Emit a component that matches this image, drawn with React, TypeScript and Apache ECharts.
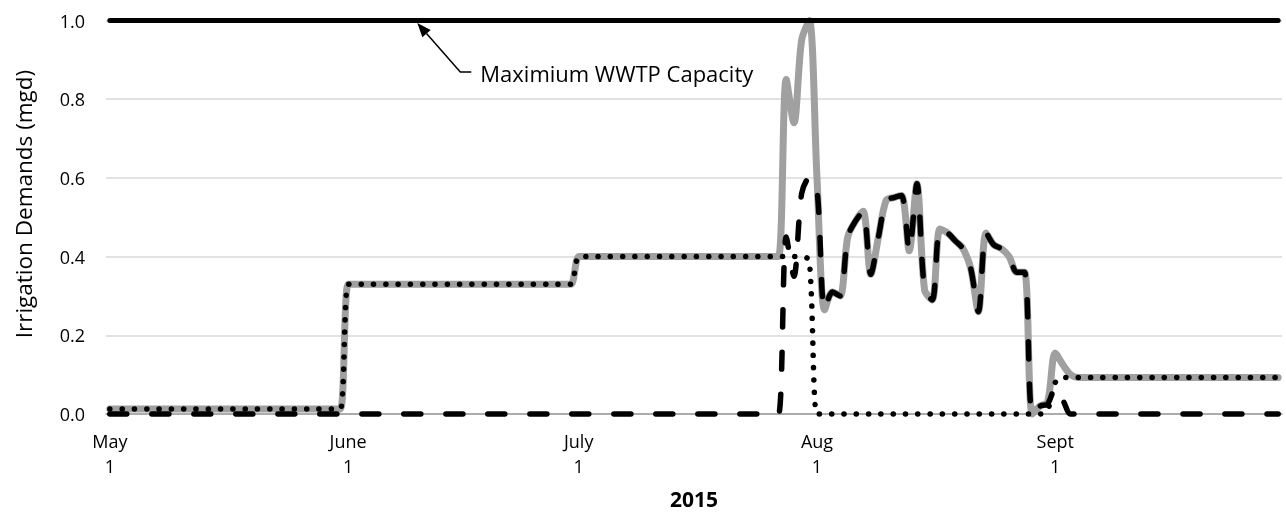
import { useEffect, useRef } from "react";
import * as echarts from "echarts";

// Day index 0 = May 1, 2015 ... 152 = Sept 30, 2015
const TICK_DAYS = [0, 31, 61, 92, 123];
const TICK_LABELS = ["May\n1", "June\n1", "July\n1", "Aug\n1", "Sept\n1"];
const X_TITLE = "2015";
const Y_TITLE = "Irrigation Demands (mgd)";
const CAPACITY_LABEL = "Maximium WWTP Capacity";
const CAPACITY = 1.0;
const CAPACITY_DAYS = [0, 152];
const ANNOTATION_DAY = 40;

// Total demand (solid grey)
const TOTAL = [
  // May
  0.013, 0.013, 0.013, 0.013, 0.013, 0.013, 0.013, 0.013, 0.013, 0.013,
  0.013, 0.013, 0.013, 0.013, 0.013, 0.013, 0.013, 0.013, 0.013, 0.013,
  0.013, 0.013, 0.013, 0.013, 0.013, 0.013, 0.013, 0.013, 0.013, 0.013, 0.013,
  // June
  0.33, 0.33, 0.33, 0.33, 0.33, 0.33, 0.33, 0.33, 0.33, 0.33,
  0.33, 0.33, 0.33, 0.33, 0.33, 0.33, 0.33, 0.33, 0.33, 0.33,
  0.33, 0.33, 0.33, 0.33, 0.33, 0.33, 0.33, 0.33, 0.33, 0.33,
  // July
  0.4, 0.4, 0.4, 0.4, 0.4, 0.4, 0.4, 0.4, 0.4, 0.4,
  0.4, 0.4, 0.4, 0.4, 0.4, 0.4, 0.4, 0.4, 0.4, 0.4,
  0.4, 0.4, 0.4, 0.4, 0.4, 0.4, 0.4, 0.85, 0.74, 0.95, 1.0,
  // August
  0.6, 0.265, 0.31, 0.3, 0.45, 0.49, 0.515, 0.355, 0.45, 0.543,
  0.55, 0.555, 0.415, 0.585, 0.315, 0.29, 0.47, 0.46, 0.44, 0.42,
  0.37, 0.26, 0.46, 0.43, 0.42, 0.4, 0.36, 0.36, 0.0, 0.02, 0.03,
  // September
  0.155, 0.125, 0.1, 0.093, 0.093, 0.093, 0.093, 0.093, 0.093, 0.093,
  0.093, 0.093, 0.093, 0.093, 0.093, 0.093, 0.093, 0.093, 0.093, 0.093,
  0.093, 0.093, 0.093, 0.093, 0.093, 0.093, 0.093, 0.093, 0.093, 0.093,
];

// Dotted demand component
const DOTTED = [
  // May
  0.013, 0.013, 0.013, 0.013, 0.013, 0.013, 0.013, 0.013, 0.013, 0.013,
  0.013, 0.013, 0.013, 0.013, 0.013, 0.013, 0.013, 0.013, 0.013, 0.013,
  0.013, 0.013, 0.013, 0.013, 0.013, 0.013, 0.013, 0.013, 0.013, 0.013, 0.013,
  // June
  0.33, 0.33, 0.33, 0.33, 0.33, 0.33, 0.33, 0.33, 0.33, 0.33,
  0.33, 0.33, 0.33, 0.33, 0.33, 0.33, 0.33, 0.33, 0.33, 0.33,
  0.33, 0.33, 0.33, 0.33, 0.33, 0.33, 0.33, 0.33, 0.33, 0.33,
  // July
  0.4, 0.4, 0.4, 0.4, 0.4, 0.4, 0.4, 0.4, 0.4, 0.4,
  0.4, 0.4, 0.4, 0.4, 0.4, 0.4, 0.4, 0.4, 0.4, 0.4,
  0.4, 0.4, 0.4, 0.4, 0.4, 0.4, 0.4, 0.4, 0.4, 0.4, 0.39,
  // August
  0, 0, 0, 0, 0, 0, 0, 0, 0, 0,
  0, 0, 0, 0, 0, 0, 0, 0, 0, 0,
  0, 0, 0, 0, 0, 0, 0, 0, 0, 0, 0.01,
  // September
  0.08, 0.093, 0.093, 0.093, 0.093, 0.093, 0.093, 0.093, 0.093, 0.093,
  0.093, 0.093, 0.093, 0.093, 0.093, 0.093, 0.093, 0.093, 0.093, 0.093,
  0.093, 0.093, 0.093, 0.093, 0.093, 0.093, 0.093, 0.093, 0.093, 0.093,
];

// Dashed demand component
const DASHED = [
  // May
  0, 0, 0, 0, 0, 0, 0, 0, 0, 0,
  0, 0, 0, 0, 0, 0, 0, 0, 0, 0,
  0, 0, 0, 0, 0, 0, 0, 0, 0, 0, 0,
  // June
  0, 0, 0, 0, 0, 0, 0, 0, 0, 0,
  0, 0, 0, 0, 0, 0, 0, 0, 0, 0,
  0, 0, 0, 0, 0, 0, 0, 0, 0, 0,
  // July
  0, 0, 0, 0, 0, 0, 0, 0, 0, 0,
  0, 0, 0, 0, 0, 0, 0, 0, 0, 0,
  0, 0, 0, 0, 0, 0, 0, 0.45, 0.35, 0.56, 0.6,
  // August
  0.57, 0.265, 0.31, 0.3, 0.45, 0.49, 0.515, 0.355, 0.45, 0.543,
  0.55, 0.555, 0.415, 0.585, 0.315, 0.29, 0.47, 0.46, 0.44, 0.42,
  0.37, 0.26, 0.46, 0.43, 0.42, 0.4, 0.36, 0.36, 0.0, 0.02, 0.025,
  // September
  0.065, 0.035, 0, 0, 0, 0, 0, 0, 0, 0,
  0, 0, 0, 0, 0, 0, 0, 0, 0, 0,
  0, 0, 0, 0, 0, 0, 0, 0, 0, 0,
];

const FONT = "'Open Sans', 'Liberation Sans', sans-serif";

export default function App() {
  const ref = useRef<HTMLDivElement>(null);

  useEffect(() => {
    const chart = echarts.init(ref.current!, null, { renderer: "svg" });
    const categories = TOTAL.map((_, i) => String(i));

    const lineBase = {
      type: "line" as const,
      symbol: "none",
      clip: false,
      silent: true,
      emphasis: { disabled: true },
    };

    chart.setOption({
      animation: false,
      grid: { left: 106, right: 4, top: 20.5, bottom: 100, containLabel: false },
      xAxis: {
        type: "category",
        data: categories,
        boundaryGap: true,
        axisLine: { show: true, lineStyle: { color: "#9a9a9a", width: 1.5 } },
        axisTick: { show: false },
        splitLine: { show: false },
        axisLabel: {
          interval: (idx: number) => TICK_DAYS.indexOf(idx) >= 0,
          formatter: (_v: string, idx: number) => TICK_LABELS[TICK_DAYS.indexOf(idx)] ?? "",
          fontFamily: FONT,
          fontSize: 18,
          lineHeight: 25,
          color: "#000",
          margin: 14,
        },
      },
      yAxis: {
        type: "value",
        min: 0,
        max: 1,
        interval: 0.2,
        axisLine: { show: false },
        axisTick: { show: false },
        splitLine: { show: true, lineStyle: { color: "#d9d9d9", width: 1.5 } },
        axisLabel: {
          formatter: (v: number) => v.toFixed(1),
          fontFamily: FONT,
          fontSize: 18,
          color: "#000",
          margin: 21,
        },
      },
      series: [
        {
          ...lineBase,
          name: "Total Irrigation Demand",
          data: TOTAL,
          smooth: 0.3,
          z: 2,
          lineStyle: { color: "#a0a0a0", width: 7, cap: "round", join: "round" },
        },
        {
          ...lineBase,
          name: "Demand (dotted)",
          data: DOTTED,
          smooth: 0.3,
          z: 3,
          lineStyle: { color: "#000", width: 5.5, type: [0.1, 12.2], cap: "round", join: "round" },
        },
        {
          ...lineBase,
          name: "Demand (dashed)",
          data: DASHED,
          smooth: 0.3,
          z: 4,
          lineStyle: { color: "#000", width: 5.5, type: [17, 25], cap: "round", join: "round" },
        },
        {
          ...lineBase,
          name: CAPACITY_LABEL,
          data: CAPACITY_DAYS.map((d) => [d, CAPACITY]),
          z: 5,
          lineStyle: { color: "#000", width: 5, cap: "round" },
        },
      ],
    });

    const tip = chart.convertToPixel({ gridIndex: 0 }, [ANNOTATION_DAY, CAPACITY]) as number[];
    const tx = tip[0];
    const ty = tip[1] + 2.5;
    const elbowX = tx + 43;
    const elbowY = ty + 49;
    const len = Math.hypot(43, 49);
    const ux = 43 / len;
    const uy = 49 / len;
    const headL = 14;
    const headW = 5.5;
    const bx = tx + ux * headL;
    const by = ty + uy * headL;

    chart.setOption({
      graphic: [
        {
          type: "polyline",
          silent: true,
          shape: { points: [[bx, by], [elbowX, elbowY], [elbowX + 11, elbowY]] },
          style: { stroke: "#000", lineWidth: 1.5, fill: null },
          z: 10,
        },
        {
          type: "polygon",
          silent: true,
          shape: {
            points: [
              [tx, ty],
              [bx - uy * headW, by + ux * headW],
              [bx + uy * headW, by - ux * headW],
            ],
          },
          style: { fill: "#000" },
          z: 10,
        },
        {
          type: "text",
          silent: true,
          x: elbowX + 20,
          y: elbowY + 1,
          style: {
            text: CAPACITY_LABEL,
            fontFamily: FONT,
            fontSize: 22,
            fill: "#000",
            align: "left",
            verticalAlign: "middle",
          },
          z: 10,
        },
        {
          type: "text",
          silent: true,
          x: 23,
          y: 204,
          rotation: Math.PI / 2,
          style: {
            text: Y_TITLE,
            fontFamily: FONT,
            fontSize: 22.5,
            fill: "#000",
            align: "center",
            verticalAlign: "middle",
          },
        },
        {
          type: "text",
          silent: true,
          x: 694,
          y: 499,
          style: {
            text: X_TITLE,
            fontFamily: FONT,
            fontSize: 21,
            fontWeight: "bold",
            fill: "#000",
            align: "center",
            verticalAlign: "middle",
          },
        },
      ],
    });

    return () => chart.dispose();
  }, []);

  return (
    <div
      ref={ref}
      style={{ position: "fixed", left: 0, top: 0, width: 1286, height: 514 }}
    />
  );
}
